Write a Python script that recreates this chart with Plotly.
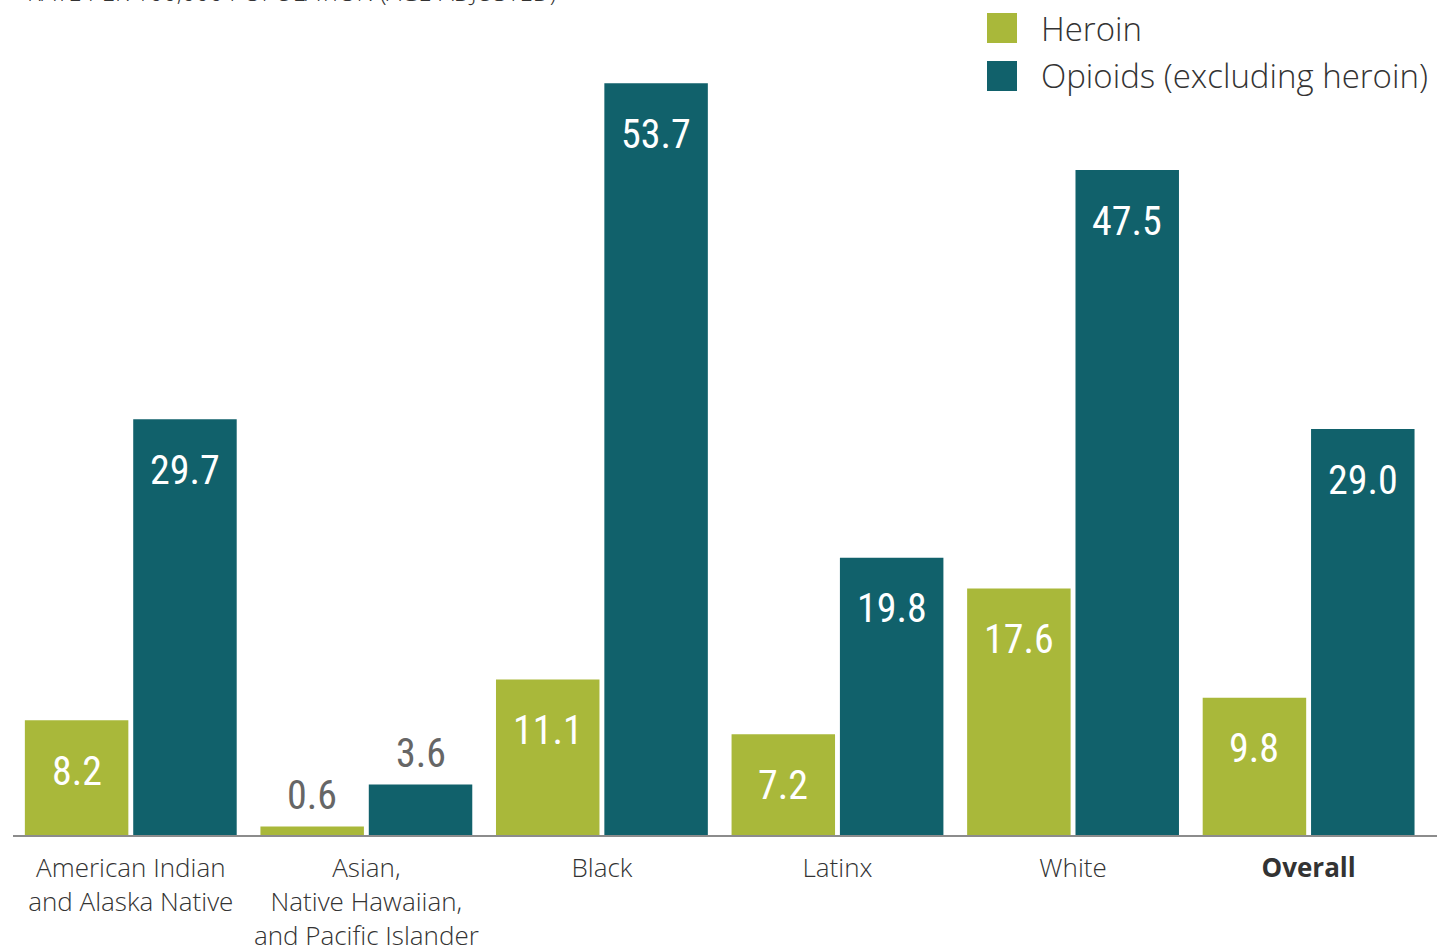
import plotly.graph_objects as go

categories = ["American Indian<br>and Alaska Native",
              "Asian,<br>Native Hawaiian,<br>and Pacific Islander",
              "Black", "Latinx", "White", "<b>Overall</b>"]
heroin = [8.2, 0.6, 11.1, 7.2, 17.6, 9.8]
opioids = [29.7, 3.6, 53.7, 19.8, 47.5, 29.0]
series_names = ["Heroin", "Opioids (excluding heroin)"]
series_colors = ["#A9B83A", "#11616B"]
y_title = "RATE PER 100,000 POPULATION (AGE-ADJUSTED)"

LABEL_FONT = "Liberation Sans Narrow, Roboto Condensed, Roboto, sans-serif"
TEXT_FONT = "Open Sans, Noto Sans, sans-serif"

fig = go.Figure()
for name, vals, col in zip(series_names, [heroin, opioids], series_colors):
    fig.add_trace(go.Bar(x=categories, y=vals, name=name, marker_color=col,
                         marker_line_width=0, showlegend=False, hoverinfo="x+y"))

annotations = []
half = 0.23
threshold = 5
for si, vals in enumerate([heroin, opioids]):
    off = -half if si == 0 else half
    for i, v in enumerate(vals):
        inside = v > threshold
        annotations.append(dict(
            x=i + off, y=v, xref="x", yref="y", text=f"{v:.1f}", showarrow=False,
            yanchor="middle", yshift=-51 if inside else 31,
            font=dict(family=LABEL_FONT, size=40, color="white" if inside else "#666666")))

# y-axis title (partially cut off at top as in reference)
annotations.append(dict(x=12/1437, y=825/835, xref="paper", yref="paper", xanchor="left",
                        yanchor="bottom", text=y_title, showarrow=False,
                        font=dict(family=TEXT_FONT, size=24, color="#333333", weight=300)))

# legend (drawn manually to get large swatches)
shapes = []
leg_rows = [28, 76]
for name, col, yc in zip(series_names, series_colors, leg_rows):
    shapes.append(dict(type="rect", xref="paper", yref="paper",
                       x0=(987-13)/1424, x1=(1017-13)/1424,
                       y0=(835-yc-15)/835, y1=(835-yc+15)/835,
                       fillcolor=col, line_width=0))
    annotations.append(dict(x=(1039-13)/1424, y=(835-yc)/835, xref="paper", yref="paper",
                            xanchor="left", yanchor="middle", text=name, showarrow=False,
                            font=dict(family=TEXT_FONT, size=33, color="#333333", weight=300)))

fig.update_layout(
    width=1437, height=946,
    margin=dict(l=13, r=0, t=0, b=111, autoexpand=False),
    paper_bgcolor="white", plot_bgcolor="white",
    barmode="group", bargap=0.08, bargroupgap=0.045,
    annotations=annotations, shapes=shapes,
    showlegend=False,
)
fig.update_xaxes(range=[-0.5, 5.545], showgrid=False, showline=True, linecolor="#8c8c8c",
                 linewidth=2, ticks="outside", ticklen=9, tickcolor="rgba(0,0,0,0)",
                 automargin=False,
                 tickfont=dict(family=TEXT_FONT, size=26, color="#333333", weight=300))
fig.update_yaxes(range=[0, 835/14.0], visible=False, showgrid=False, automargin=False)

fig.write_html("out.html", config={"displayModeBar": False},
               post_script="document.body.style.margin='0px';")
